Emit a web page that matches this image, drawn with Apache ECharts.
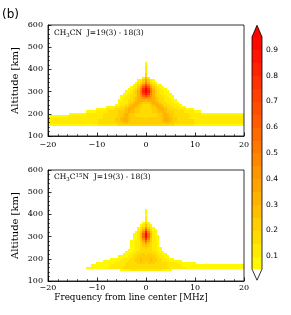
<!DOCTYPE html>
<html><head><meta charset="utf-8">
<script src="https://cdn.jsdelivr.net/npm/echarts@6/dist/echarts.min.js"></script>
<style>html,body{margin:0;padding:0;background:#fff}#c{width:291px;height:315px}</style>
</head><body><div id="c"></div>
<script>
// ---- data ----
// grid cells: frequency column centres start at -20 MHz, 0.5 MHz apart; altitude rows 10 km apart
const freqMin = -20, freqStep = 0.5, altStep = 10;
const xTicks = [-20, -10, 0, 10, 20];
const yTicks = [100, 200, 300, 400, 500, 600];
const cbLevels = [0.05,0.10,0.15,0.20,0.25,0.30,0.35,0.40,0.45,0.50,0.55,0.60,0.65,0.70,0.75,0.80,0.85,0.90,0.95];
const cbTicks = [0.1,0.2,0.3,0.4,0.5,0.6,0.7,0.8,0.9];
// each row: [altitude km, first column index, cell values (base-36 digit = value x 20, 0 = blank)]
const topRows = [
  [430, 40, '1'],
  [420, 40, '1'],
  [410, 40, '2'],
  [400, 40, '2'],
  [390, 40, '2'],
  [380, 40, '3'],
  [370, 40, '3'],
  [360, 39, '252'],
  [350, 37, '1247421'],
  [340, 36, '123595321'],
  [330, 35, '12359d953211'],
  [320, 34, '12247cgc743211'],
  [310, 33, '112359fjf9532211'],
  [300, 32, '112346agjga6432211'],
  [290, 31, '11223469ehe964322111'],
  [280, 30, '112233468bdb8643322111'],
  [270, 30, '1222345678987654332211'],
  [260, 29, '112233456665666543322211'],
  [250, 29, '1222345665444566543322211'],
  [240, 28, '112234566543334566543322211'],
  [230, 24, '111222334566544333445665433222111'],
  [220, 20, '1111222233345665443333344566543332222111'],
  [210, 16, '11112222233334445655443333344556544433332222111'],
  [200, 9, '1111111' + '2222222' + '333333' + '4456544' + '333333333' + '4456544' + '333333' + '22222' + '1111111111' + '11111111'],
  [190, 0, '111111111' + '2222222222' + '2222' + '333333' + '4456544' + '333333333' + '4456544' + '3333333' + '2222222222' + '2222222222' + '22'],
  [180, 0, '2222222222' + '2222222222' + '222' + '33333' + '4456654' + '44444' + '3' + '44444' + '4566544' + '33333' + '2222222222' + '2222222222' + '222'],
  [170, 0, '2222222222' + '2222222222' + '2' + '333333' + '34456654' + '4444444444' + '4' + '45665443' + '333333' + '2222222222' + '2222222222' + '2'],
  [160, 0, '2222222222' + '2222222222' + '2' + '3333333' + '3445544' + '4444444444' + '4' + '4455443' + '3333333' + '2222222222' + '2222222222' + '2'],
  [150, 0, '1111111111' + '1111111111' + '1' + '22222222' + '3333333333' + '3333333333' + '333' + '22222222' + '1111111111' + '1111111111' + '1']
];
const botRows = [
  [420, 40, '1'],
  [410, 40, '1'],
  [400, 40, '1'],
  [390, 40, '2'],
  [380, 40, '2'],
  [370, 40, '2'],
  [360, 39, '131'],
  [350, 38, '12521'],
  [340, 37, '1248421'],
  [330, 37, '136c6311'],
  [320, 36, '1249g9421'],
  [310, 35, '1125bjb521'],
  [300, 35, '1125bib5211'],
  [290, 35, '11249f94211'],
  [280, 34, '112247b74221'],
  [270, 34, '112235853221'],
  [260, 34, '112234543221'],
  [250, 34, '1122334332211'],
  [240, 33, '11122333332211'],
  [230, 32, '1112233333332211'],
  [220, 31, '111223344344332211'],
  [210, 29, '111122334444444332211'],
  [200, 26, '11111222334454445443322111'],
  [190, 23, '11111112223334454445443322211111'],
  [180, 20, '11111111222233333444344433333222211111111'],
  [170, 18, '11111111' + '222222' + '3333333333' + '3333333' + '222222' + '1111111111' + '1111111111' + '111111'],
  [160, 16, '111111111' + '222222' + '3333333333' + '333333333' + '2222222' + '1111111111' + '1111111111' + '1111'],
  [150, 30, '1111' + '2222222222' + '222' + '1111']
];
const topLabel = 'CH3CN J=19(3) - 18(3)';
const botLabel = 'CH3C15N J=19(3) - 18(3)';

// ---- build ----
function toCells(rows) {
  const out = [];
  rows.forEach(([alt, start, seg]) => {
    for (let j = 0; j < seg.length; j++) {
      const c = seg[j];
      if (c === '0') continue;
      out.push([freqMin + (start + j) * freqStep, alt, parseInt(c, 36) / 20]);
    }
  });
  return out;
}
function bandColor(k) {
  const n = cbLevels.length - 1;
  const t = (k + 0.5) / n;
  return 'rgb(255,' + Math.round(255 * (1 - t)) + ',0)';
}
const pieces = [];
for (let k = 0; k < cbLevels.length - 1; k++) {
  pieces.push({ gte: cbLevels[k] - 1e-6, lt: cbLevels[k + 1] - 1e-6, color: bandColor(k) });
}
pieces.push({ gte: cbLevels[cbLevels.length - 1] - 1e-6, color: 'rgb(255,0,0)' });

function cellItem(params, api) {
  const f = api.value(0), a = api.value(1);
  const p0 = api.coord([f - freqStep / 2, a + altStep / 2]);
  const p1 = api.coord([f + freqStep / 2, a - altStep / 2]);
  const x0 = Math.round(p0[0]), x1 = Math.round(p1[0]);
  const y0 = Math.round(p0[1]), y1 = Math.round(p1[1]);
  return { type: 'rect', shape: { x: x0, y: y0, width: x1 - x0, height: y1 - y0 },
           style: { fill: api.visual('color') } };
}
const minus = v => String(v).replace('-', '\u2212');
const serif = 'DejaVu Serif';
function xAx(gi, margin) {
  return { type: 'value', gridIndex: gi, min: -20, max: 20, interval: 10, z: 10,
    axisLine: { show: true, onZero: false, lineStyle: { color: '#000', width: 0.8 } },
    axisTick: { show: true, inside: true, length: 3.5, lineStyle: { color: '#000', width: 0.8 } },
    minorTick: { show: true, splitNumber: 5, length: 2, lineStyle: { color: '#000', width: 0.6 } },
    splitLine: { show: false },
    axisLabel: { fontFamily: serif, fontSize: 8, color: '#000', margin: margin, formatter: minus,
                 showMinLabel: true, showMaxLabel: true } };
}
function yAx(gi) {
  return { type: 'value', gridIndex: gi, min: 100, max: 600, interval: 100, z: 10,
    axisLine: { show: true, onZero: false, lineStyle: { color: '#000', width: 0.8 } },
    axisTick: { show: true, inside: true, length: 3.5, lineStyle: { color: '#000', width: 0.8 } },
    minorTick: { show: true, splitNumber: 5, length: 2, lineStyle: { color: '#000', width: 0.6 } },
    splitLine: { show: false },
    axisLabel: { fontFamily: serif, fontSize: 8, color: '#000', margin: 5,
                 showMinLabel: true, showMaxLabel: true } };
}
function panelText(y, sup) {
  const rich = {
    a: { fontFamily: serif, fontSize: 7.5, fill: '#000', lineHeight: 10 },
    s: { fontFamily: serif, fontSize: 5.5, fill: '#000', lineHeight: 5, verticalAlign: 'bottom' },
    u: { fontFamily: serif, fontSize: 5.5, fill: '#000', lineHeight: 5, verticalAlign: 'top' }
  };
  const t = sup ? '{a|CH}{s|3}{a|C}{u|15}{a|N  J=19(3) - 18(3)}' : '{a|CH}{s|3}{a|CN  J=19(3) - 18(3)}';
  return { type: 'text', x: 54, y: y, z: 20,
    style: { text: t, rich: rich, textVerticalAlign: 'middle', fill: '#000' } };
}

const chart = echarts.init(document.getElementById('c'), null, { renderer: 'canvas', width: 291, height: 315 });
chart.setOption({
  animation: false,
  backgroundColor: '#fff',
  grid: [
    { left: 48, top: 25, width: 196, height: 111, show: true, borderColor: '#000', borderWidth: 0.8, z: 10 },
    { left: 48, top: 170, width: 196, height: 111, show: true, borderColor: '#000', borderWidth: 0.8, z: 10 },
    { left: 252, top: 24, width: 10, height: 258 }
  ],
  xAxis: [ xAx(0, 5), xAx(1, 3), { type: 'value', gridIndex: 2, min: 0, max: 1, show: false } ],
  yAxis: [ yAx(0), yAx(1), { type: 'value', gridIndex: 2, min: 0, max: 1, position: 'right',
      axisLine: { show: false }, splitLine: { show: false },
      axisTick: { show: true, length: 3.5, customValues: cbTicks, lineStyle: { color: '#000', width: 0.8 } },
      axisLabel: { customValues: cbTicks, fontFamily: 'DejaVu Sans', fontSize: 7.5, color: '#000', margin: 4,
                   formatter: v => Number(v).toFixed(1) } } ],
  visualMap: { type: 'piecewise', show: false, dimension: 2, seriesIndex: [0, 1], pieces: pieces },
  series: [
    { type: 'custom', xAxisIndex: 0, yAxisIndex: 0, clip: true, encode: { x: 0, y: 1 },
      data: toCells(topRows), renderItem: cellItem },
    { type: 'custom', xAxisIndex: 1, yAxisIndex: 1, clip: true, encode: { x: 0, y: 1 },
      data: toCells(botRows), renderItem: cellItem },
    { type: 'custom', xAxisIndex: 2, yAxisIndex: 2,
      data: cbLevels.slice(0, -1).map((lo, k) => [lo, cbLevels[k + 1], k]),
      renderItem: (params, api) => {
        const p0 = api.coord([0, api.value(1)]), p1 = api.coord([1, api.value(0)]);
        return { type: 'rect', shape: { x: p0[0], y: Math.floor(p0[1]), width: p1[0] - p0[0], height: Math.ceil(p1[1]) - Math.floor(p0[1]) },
                 style: { fill: bandColor(api.value(2)) } };
      } },
    { type: 'custom', xAxisIndex: 2, yAxisIndex: 2, z: 5, data: [[0.5, 0.5]],
      renderItem: (params, api) => {
        const lo = cbLevels[0], hi = cbLevels[cbLevels.length - 1];
        const c = p => api.coord(p);
        const top = [c([0, hi]), c([1, hi]), c([0.5, 0.995])];
        const bot = [c([0, lo]), c([1, lo]), c([0.5, 0.007])];
        const outline = [c([0, lo]), c([0.5, 0.007]), c([1, lo]), c([1, hi]), c([0.5, 0.995]), c([0, hi])];
        return { type: 'group', children: [
          { type: 'polygon', shape: { points: top }, style: { fill: 'rgb(255,0,0)' } },
          { type: 'polygon', shape: { points: bot }, style: { fill: '#fff' } },
          { type: 'polygon', shape: { points: outline }, style: { fill: 'none', stroke: '#000', lineWidth: 0.8 } }
        ] };
      } }
  ],
  graphic: [
    { type: 'text', x: 2, y: 15, style: { text: '(b)', fontFamily: 'DejaVu Sans', fontSize: 12, fill: '#000', textVerticalAlign: 'middle' } },
    { type: 'text', x: 15.5, y: 80.5, rotation: Math.PI / 2,
      style: { text: 'Altitude [km]', fontFamily: serif, fontSize: 10, fill: '#000', textAlign: 'center', textVerticalAlign: 'middle' } },
    { type: 'text', x: 15.5, y: 225.5, rotation: Math.PI / 2,
      style: { text: 'Altitude [km]', fontFamily: serif, fontSize: 10, fill: '#000', textAlign: 'center', textVerticalAlign: 'middle' } },
    { type: 'text', x: 131, y: 298,
      style: { text: 'Frequency from line center [MHz]', fontFamily: serif, fontSize: 8.8, fill: '#000', textAlign: 'center', textVerticalAlign: 'middle' } },
    panelText(33.5, false),
    panelText(177.5, true)
  ]
});
</script></body></html>
